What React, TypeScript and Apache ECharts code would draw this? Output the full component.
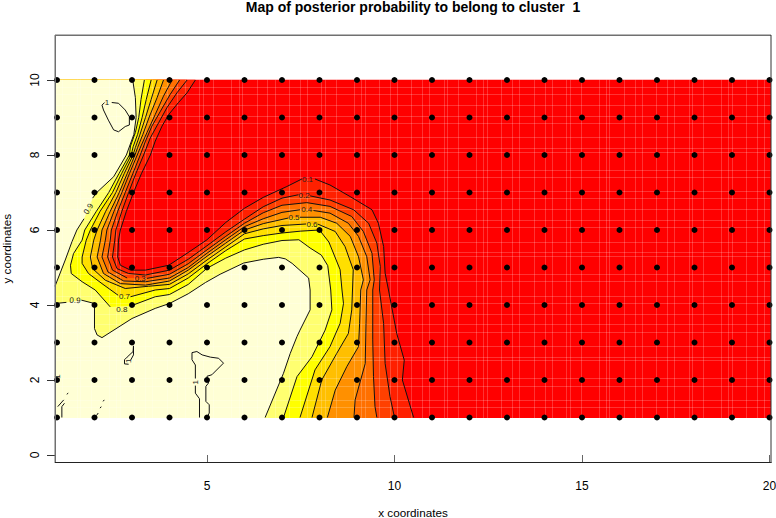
import React, { useEffect, useRef } from "react";
import * as echarts from "echarts";

const XMIN = 0.9467, XMAX = 20.04, YMIN = -0.2, YMAX = 11.2;
const IMG_BOTTOM = 0.985, IMG_TOP = 10.01;

const gridXs = [1, 2, 3, 4, 5, 6, 7, 8, 9, 10, 11, 12, 13, 14, 15, 16, 17, 18, 19, 20];
const gridYs = [1, 2, 3, 4, 5, 6, 7, 8, 9, 10];
const xTicks = [5, 10, 15, 20];
const yTicks = [0, 2, 4, 6, 8, 10];

type P = [number, number];

const c01: P[][] = [
  [[4.69,10],[4.47,9.66],[4.24,9.4],[3.98,9.08],[3.8,8.77],[3.62,8.37],[3.49,8],[3.25,7.5],[3.04,7],[2.85,6.5],[2.69,6],[2.64,5.73],[2.62,5.28],[2.69,5.06],[2.96,4.93],[3.36,4.93],[3.98,5.06],[4.5,5.4],[5,5.74],[5.5,6.2],[6,6.58],[6.5,6.87],[7.13,7.16],[7.53,7.36]],
  [[7.88,7.36],[8.28,7.2],[8.82,6.89],[9.4,6.54],[9.57,6.18],[9.71,5.56],[9.75,4.85],[9.84,4.4],[10.06,3.24],[10.26,2.53],[10.21,2],[10.51,1]],
];
const c02: P[][] = [
  [[4.47,10],[4.2,9.66],[3.93,9.26],[3.71,8.86],[3.49,8.46],[3.31,8],[3.1,7.5],[2.91,7],[2.73,6.5],[2.57,6],[2.54,5.73],[2.48,5.28],[2.6,4.97],[2.91,4.84],[3.36,4.8],[4,4.93],[4.5,5.22],[5,5.58],[5.5,5.95],[6,6.29],[6.5,6.62],[7,6.85],[7.44,6.94]],
  [[7.75,6.91],[8.28,6.8],[8.91,6.54],[9.31,6.18],[9.53,5.65],[9.62,5.03],[9.6,4.4],[9.71,3.51],[9.75,2.44],[9.88,1.56],[10,1]],
];
const c03: P[][] = [
  [[4.27,10],[4.02,9.62],[3.76,9.17],[3.53,8.77],[3.36,8.37],[3.22,8],[3.02,7.5],[2.82,7],[2.62,6.5],[2.45,6],[2.42,5.73],[2.35,5.28],[2.48,4.93],[2.87,4.72]],
  [[3.4,4.71],[4,4.82],[4.5,5.1],[5,5.47],[5.5,5.83],[6,6.18],[6.5,6.46],[7,6.66],[7.66,6.73],[8.28,6.63],[8.86,6.36],[9.17,5.96],[9.4,5.38],[9.46,4.67],[9.42,4.4],[9.42,3.07],[9.44,2.09],[9.48,1.29],[9.53,1]],
];
const c04: P[][] = [
  [[4.07,10],[3.84,9.57],[3.62,9.08],[3.4,8.6],[3.24,8.24],[3.14,8],[2.93,7.5],[2.73,7],[2.52,6.5],[2.33,6],[2.29,5.73],[2.2,5.28],[2.36,4.88],[2.78,4.64],[3.36,4.62],[4,4.72],[4.5,5],[5,5.38],[5.5,5.74],[6,6.09],[6.5,6.3],[7,6.47],[7.48,6.54]],
  [[7.84,6.52],[8.28,6.45],[8.77,6.18],[9.04,5.83],[9.26,5.29],[9.35,4.67],[9.26,4.4],[9.24,3.51],[9.22,2.44],[8.95,1.47],[8.92,1]],
];
const c05: P[][] = [
  [[3.84,10],[3.67,9.53],[3.47,9.04],[3.29,8.55],[3.15,8.2],[3.08,8],[2.87,7.5],[2.66,7],[2.42,6.5],[2.2,6],[2.16,5.73],[2.07,5.28],[2.24,4.84],[2.69,4.57],[3.36,4.53],[4,4.64],[4.5,4.93],[5,5.3],[5.5,5.65],[6,6],[6.5,6.17],[7.17,6.32]],
  [[7.48,6.34],[8.02,6.34],[8.46,6.18],[8.82,5.83],[9.04,5.29],[9.17,4.67],[9.1,4.4],[9.07,3.51],[9.04,2.89],[8.73,2.36],[8.42,1.73],[8.21,1]],
];
const c06: P[][] = [
  [[3.67,10],[3.51,9.48],[3.36,9],[3.2,8.51],[3.09,8.2],[3.03,8],[2.79,7.5],[2.57,7],[2.3,6.5],[2.07,6],[1.98,5.73],[1.89,5.28],[1.95,4.97],[2.29,4.66],[2.82,4.44],[3.44,4.5],[4,4.55],[4.5,4.83],[5,5.2],[5.5,5.55],[6,5.9],[6.5,6.03],[7,6.12],[7.64,6.16]],
  [[7.95,6.16],[8.42,5.96],[8.68,5.56],[8.9,4.94],[8.88,4.4],[8.86,3.87],[8.77,3.24],[8.46,2.71],[8.06,2],[7.8,1]],
];
const c07: P[][] = [
  [[3.51,10],[3.38,9.48],[3.27,9],[3.15,8.55],[3.03,8.22],[2.98,8],[2.72,7.5],[2.48,7],[2.15,6.5],[1.89,6],[1.78,5.73],[1.67,5.28],[1.67,5.11],[1.84,4.84],[2.2,4.57],[2.63,4.26]],
  [[2.96,4.22],[3.62,4.4],[4,4.44],[4.5,4.72],[5,5.1],[5.5,5.45],[6,5.76],[6.5,5.85],[7,5.92],[7.5,5.97],[8,6],[8.25,5.68],[8.55,4.94],[8.6,4.4],[8.64,4.04],[8.55,3.51],[8.28,2.89],[7.88,2.27],[7.48,1]],
];
const c08: P[][] = [
  [[3.33,10],[3.24,9.48],[3.18,9],[3.09,8.6],[2.96,8.24],[2.93,8],[2.65,7.5],[2.38,7],[2.05,6.5],[1.74,6],[1.67,5.73],[1.44,5.37],[1.36,5.06],[1.38,4.84],[1.67,4.62],[2.02,4.4],[2.42,3.95]],
  [[2.98,3.98],[3.62,4.22],[4,4.28],[4.5,4.55],[5,4.98],[5.5,5.25],[6,5.47],[6.5,5.62],[7,5.72],[7.45,5.74],[7.75,5.52],[8.05,5.33],[8.22,5.05],[8.3,4.4],[8.33,3.87],[8.15,3.33],[7.8,2.62],[7.4,2.09],[7.04,1]],
];
const c09Upper: P[][] = [
  [[3.02,10],[3.09,9.53],[3.11,9],[3.05,8.55],[2.85,8],[2.51,7.42],[2.06,7],[1.95,6.85]],
  [[1.72,6.3],[1.53,6],[1.4,5.69],[1.22,5.2],[0.9467,4.5]],
];
const c09Lower: P[][] = [
  [[0.9467,4.04],[1.25,4.07]],
  [[1.65,4.13],[2,4.04],[2,3.37],[2.07,3.2],[2.2,3.13],[3,3.64],[3.62,3.91],[4,4.04],[4.5,4.3],[4.96,4.6],[5.35,4.82],[5.98,5.12],[6.5,5.22],[6.91,5.27],[7.09,5.23],[7.27,5.11],[7.71,4.72],[7.75,4.4],[7.75,3.87],[7.48,3.33],[7.4,3.16],[7.22,2.71],[7.04,2.18],[6.55,1]],
];
const c10: P[][] = [
  [[2.46,9.4],[2.64,9.38],[2.82,9.2],[2.93,9.02],[2.93,8.8],[2.82,8.76],[2.64,8.62],[2.51,8.67],[2.37,8.93],[2.24,9.2],[2.2,9.33],[2.27,9.4]],
  [[2.91,2.42],[2.8,2.43],[2.8,2.54],[2.87,2.61],[3.03,2.76],[3.04,2.91]],
  [[2.97,2.54],[3.04,2.67],[3.04,2.91]],
  [[4.8,1],[4.8,1.5],[4.69,1.65],[4.69,1.85]],
  [[4.69,2.04],[4.69,2.4],[4.6,2.54],[4.6,2.73],[4.73,2.76],[4.87,2.67],[5.09,2.61],[5.31,2.58],[5.44,2.45],[5.13,2.14],[5,2.1],[5.04,1.92],[4.97,1.83],[4.97,1.43],[5.06,1.34],[5.06,1.12],[5,1]],
  [[1.02,1.29],[1.18,1.47]],
  [[1.13,1],[1.13,1.29],[1.2,1.38]],
  [[1.26,1.62],[1.3,1.65]],
  [[2.05,1.05],[2.1,1.12]],
  [[2.15,1.25],[2.18,1.29]],
  [[2.23,1.43],[2.26,1.47]],
];

const contourLabels: [string, number, number, number][] = [
  ["0.9", 1.84, 6.56, 59],
  ["0.9", 1.48, 4.12, -3],
  ["0.8", 2.73, 3.88, 0],
  ["0.7", 2.8, 4.22, 0],
  ["0.3", 3.22, 4.71, 0],
  ["0.1", 7.68, 7.36, 0],
  ["0.2", 7.59, 6.92, 0],
  ["0.4", 7.66, 6.54, 0],
  ["0.5", 7.32, 6.34, 0],
  ["0.6", 7.8, 6.16, 0],
  ["1", 2.33, 9.4, 0],
  ["1", 4.69, 1.94, 90],
  ["1", 2.91, 2.51, 90],
  ["1", 1.02, 2.09, 90],
];

// colour for the area at or above each contour
const bandColors = ["#FF2000", "#FF4000", "#FF7000", "#FF9000", "#FFBF00", "#FFDF00", "#FFFF00", "#FFFF70", "#FFFFD5"];
const contourLevels = [c01, c02, c03, c04, c05, c06, c07, c08];

const seamCellX = 0.096;
const seamGapsX = [2, 4, 1, 3, 5, 2, 1, 4, 3, 2, 4, 3];
const seamGapsY = [3, 2, 4, 2, 5, 1, 3, 4, 2, 3];

function flat(s: P[][]): P[] {
  return s.reduce((a: P[], b) => a.concat(b), []);
}

function seamList(start: number, end: number, gaps: number[]): number[] {
  const out: number[] = [];
  let v = start, i = 0;
  while (v < end) {
    v += gaps[i % gaps.length] * seamCellX;
    if (v < end) out.push(v);
    i++;
  }
  return out;
}

function App() {
  const ref = useRef<HTMLDivElement>(null);
  useEffect(() => {
    const chart = echarts.init(ref.current!, undefined, { renderer: "svg" });
    const polys: { pts: P[]; color: string }[] = [
      { pts: [[XMIN, IMG_BOTTOM], [XMAX, IMG_BOTTOM], [XMAX, IMG_TOP], [XMIN, IMG_TOP]], color: "#FF0000" },
    ];
    contourLevels.forEach((lv, i) => {
      const f = flat(lv);
      polys.push({
        pts: [[f[0][0], IMG_TOP], ...f, [f[f.length - 1][0], IMG_BOTTOM], [XMIN, IMG_BOTTOM], [XMIN, IMG_TOP]],
        color: bandColors[i],
      });
    });
    const up = flat(c09Upper);
    polys.push({ pts: [[up[0][0], IMG_TOP], ...up, [XMIN, IMG_TOP]], color: bandColors[8] });
    const lo = flat(c09Lower);
    polys.push({ pts: [...lo, [lo[lo.length - 1][0], IMG_BOTTOM], [XMIN, IMG_BOTTOM]], color: bandColors[8] });

    const segs: P[][] = [...contourLevels.flat(), ...c09Upper, ...c09Lower, ...c10];
    const lineSeries = segs.map((s) => ({
      type: "line",
      data: s,
      showSymbol: false,
      symbol: "none",
      silent: true,
      z: 3,
      lineStyle: { color: "#111", width: 1 },
    }));

    const seamX = seamList(XMIN, XMAX, seamGapsX);
    const seamY = seamList(IMG_BOTTOM, IMG_TOP, seamGapsY);
    const dots: P[] = [];
    gridYs.forEach((y) => gridXs.forEach((x) => dots.push([x, y])));

    const boxLine = (x1: number, y1: number, x2: number, y2: number, stroke: string, lineWidth: number) => ({
      type: "line",
      silent: true,
      z: 6,
      shape: { x1, y1, x2, y2 },
      style: { stroke, lineWidth },
    });

    chart.setOption({
      animation: false,
      title: {
        text: "Map of posterior probability to belong to cluster  1",
        left: 413,
        top: 0,
        padding: 0,
        textAlign: "center",
        textStyle: { fontFamily: "Liberation Sans", fontSize: 14, fontWeight: "bold", color: "#000" },
      },
      grid: { left: 55, right: 5, top: 35, bottom: 55.5, outerBoundsMode: "none", containLabel: false, show: false },
      graphic: [
        boxLine(55.25, 35, 55.25, 463, "#707070", 1.5),
        boxLine(55, 35.25, 771, 35.25, "#707070", 1.5),
        boxLine(55, 462.5, 771.5, 462.5, "#222", 1),
        boxLine(771, 35, 771, 463, "#333", 1),
      ],
      xAxis: {
        type: "value",
        min: XMIN,
        max: XMAX,
        name: "x coordinates",
        nameLocation: "middle",
        nameGap: 44,
        nameTextStyle: { fontFamily: "Liberation Sans", fontSize: 11.7, color: "#000" },
        splitLine: { show: false },
        axisLine: { show: false },
        axisTick: { show: true, length: 7, lineStyle: { color: "#666" }, customValues: xTicks },
        axisLabel: { fontFamily: "Liberation Sans", fontSize: 12, color: "#000", margin: 17, customValues: xTicks },
      },
      yAxis: {
        type: "value",
        min: YMIN,
        max: YMAX,
        name: "y coordinates",
        nameLocation: "middle",
        nameGap: 43,
        nameRotate: 90,
        nameTextStyle: { fontFamily: "Liberation Sans", fontSize: 11.7, color: "#000" },
        splitLine: { show: false },
        axisLine: { show: false },
        axisTick: { show: true, length: 8, lineStyle: { color: "#333" }, customValues: yTicks },
        axisLabel: { fontFamily: "Liberation Sans", fontSize: 12, color: "#000", margin: 14, rotate: 90, customValues: yTicks },
      },
      series: [
        {
          type: "custom",
          coordinateSystem: "cartesian2d",
          silent: true,
          z: 1,
          clip: false,
          data: polys.map((p) => [p.pts[0][0], p.pts[0][1]]),
          renderItem: (params: any, api: any) => {
            const p = polys[params.dataIndex];
            return {
              type: "polygon",
              shape: { points: p.pts.map((q) => api.coord(q)) },
              style: { fill: p.color, stroke: "none" },
            };
          },
        },
        {
          type: "custom",
          coordinateSystem: "cartesian2d",
          silent: true,
          z: 2,
          clip: false,
          data: seamX.map((x) => [x, IMG_BOTTOM]),
          renderItem: (params: any, api: any) => {
            const x = Math.round(api.coord([seamX[params.dataIndex], 5])[0]) + 0.5;
            const y1 = api.coord([5, IMG_TOP])[1];
            const y2 = api.coord([5, IMG_BOTTOM])[1];
            return { type: "line", shape: { x1: x, y1, x2: x, y2 }, style: { stroke: "rgba(255,255,255,0.2)", lineWidth: 1 } };
          },
        },
        {
          type: "custom",
          coordinateSystem: "cartesian2d",
          silent: true,
          z: 2,
          clip: false,
          data: seamY.map((y) => [XMIN, y]),
          renderItem: (params: any, api: any) => {
            const y = Math.round(api.coord([5, seamY[params.dataIndex]])[1]) + 0.5;
            const x1 = api.coord([XMIN, 5])[0];
            const x2 = api.coord([XMAX, 5])[0];
            return { type: "line", shape: { x1, y1: y, x2, y2: y }, style: { stroke: "rgba(255,255,255,0.2)", lineWidth: 1 } };
          },
        },
        ...lineSeries,
        {
          type: "custom",
          coordinateSystem: "cartesian2d",
          silent: true,
          z: 4,
          clip: false,
          data: contourLabels.map((l) => [l[1], l[2]]),
          renderItem: (params: any, api: any) => {
            const l = contourLabels[params.dataIndex];
            const c = api.coord([l[1], l[2]]);
            return {
              type: "text",
              x: c[0],
              y: c[1],
              rotation: (l[3] * Math.PI) / 180,
              style: { text: l[0], fontFamily: "Liberation Sans", fontSize: 8, fill: "#222", align: "center", verticalAlign: "middle" },
            };
          },
        },
        {
          type: "scatter",
          data: dots,
          symbol: "circle",
          symbolSize: 6,
          silent: true,
          z: 5,
          itemStyle: { color: "#000", opacity: 1 },
        },
      ],
    });
    return () => chart.dispose();
  }, []);
  return <div ref={ref} style={{ position: "absolute", left: 0, top: 0, width: 776, height: 518 }} />;
}

export default App;
